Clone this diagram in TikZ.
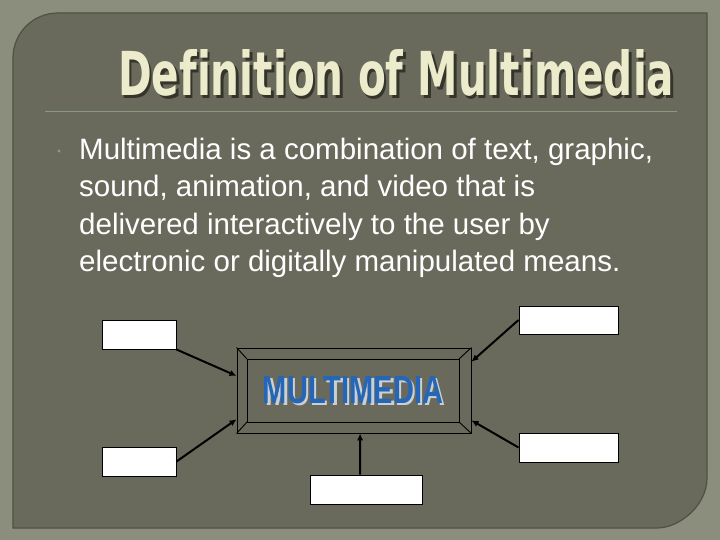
\documentclass[tikz,border=0pt]{standalone}
\usepackage{fontspec}
\setmainfont{Liberation Sans}
\newfontfamily\titlefont{DejaVu Sans}[Ligatures=NoCommon]
\usetikzlibrary{arrows.meta,calc}
\definecolor{outerbg}{RGB}{139,142,124}
\definecolor{panel}{RGB}{106,106,92}
\definecolor{paneledge}{RGB}{80,80,68}
\definecolor{titlecol}{RGB}{236,236,204}
\definecolor{titleshadow}{RGB}{52,52,42}
\definecolor{rulecol}{RGB}{138,154,128}
\definecolor{mmblue}{RGB}{38,102,182}
\definecolor{mmshadow}{RGB}{200,208,214}
\tikzset{
  wbox/.style={draw=black, fill=white, line width=1pt, inner sep=0pt},
  arr/.style={black, line width=2pt, -{Latex[length=7pt,width=6.5pt]}},
  frameline/.style={black, line width=0.9pt},
  titletext/.style={anchor=base west, inner sep=0pt, font=\titlefont\bfseries}
}
\begin{document}
\begin{tikzpicture}[x=1pt,y=-1pt]
\useasboundingbox (0,0) rectangle (720,540);
\fill[outerbg] (0,0) rectangle (720,540);
% inner panel
\fill[panel] (13,528) -- (13,58) .. controls (13,33) and (33,13) .. (58,13) -- (707,13) -- (707,478) .. controls (707,505.6) and (679.4,528) .. (657,528) -- cycle;
\draw[paneledge, line width=1.2pt] (13,528) -- (13,58) .. controls (13,33) and (33,13) .. (58,13) -- (707,13) -- (707,478) .. controls (707,505.6) and (679.4,528) .. (657,528) -- cycle;
% title
\node[titletext, text=titleshadow] (titleshadownode) at (120.5,98.5) {\resizebox{556pt}{46pt}{Definition of Multimedia}};
\node[titletext, text=titlecol] (title) at (118,96) {\resizebox{556pt}{46pt}{Definition of Multimedia}};
\draw[rulecol, line width=1pt] (45,112) -- (677,112);
% bullet and body text
\fill[rulecol] (59,151) circle (1.6);
\node[anchor=north west, inner sep=0pt, align=left, text=white, font=\fontsize{29.5}{37.6}\selectfont] (body) at (79,137.5) {Multimedia is a combination of text, graphic,\\sound, animation, and video that is\\delivered interactively to the user by\\electronic or digitally manipulated means.};
% central frame
\node[draw=black, line width=0.9pt, minimum width=234pt, minimum height=85pt, inner sep=0pt] (frame) at (354,390.5) {};
\draw[frameline] (247,359) rectangle (459,422);
\draw[frameline] (frame.north west) -- (247,359);
\draw[frameline] (frame.north east) -- (459,359);
\draw[frameline] (frame.south west) -- (247,422);
\draw[frameline] (frame.south east) -- (459,422);
\node[inner sep=0pt, text=mmshadow, font=\bfseries] (mmshadownode) at (355.5,392) {\resizebox{180pt}{27pt}{MULTIMEDIA}};
\node[inner sep=0pt, text=mmblue, font=\bfseries] (mm) at (353,390.5) {\resizebox{180pt}{27pt}{MULTIMEDIA}};
% boxes
\node[wbox, minimum width=74pt, minimum height=29pt] (tl) at (139,334.5) {};
\node[wbox, minimum width=74pt, minimum height=29pt] (bl) at (139,461.5) {};
\node[wbox, minimum width=99pt, minimum height=28pt] (tr) at (568.5,320) {};
\node[wbox, minimum width=99pt, minimum height=29pt] (br) at (568.5,447.5) {};
\node[wbox, minimum width=112pt, minimum height=29pt] (bc) at (366,489.5) {};
% arrows
\draw[arr] (tl.south east) -- ($(frame.north west)!0.33!(frame.south west)$);
\draw[arr] (bl.east) -- ($(frame.north west)!0.835!(frame.south west)$);
\draw[arr] (tr.west) -- ($(frame.north east)!0.165!(frame.south east)$);
\draw[arr] (br.west) -- ($(frame.north east)!0.847!(frame.south east)$);
\draw[arr] ([xshift=-6pt]bc.north) -- ($(frame.south west)!0.526!(frame.south east)$);
\end{tikzpicture}
\end{document}
